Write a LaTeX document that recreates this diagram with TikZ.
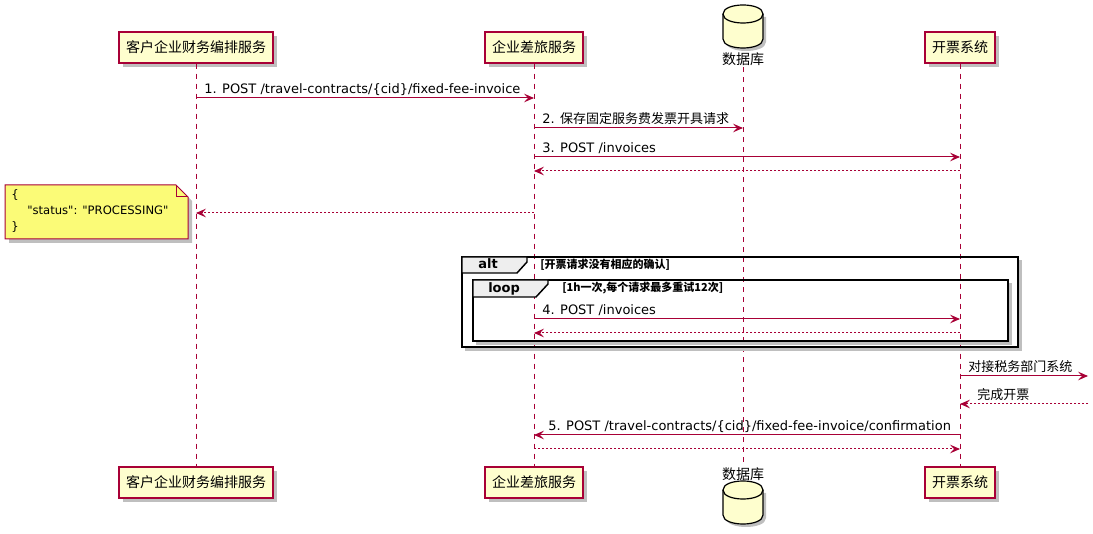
\documentclass[tikz,border=0pt]{standalone}
\usepackage{fontspec}
\setmainfont{Noto Sans CJK SC}
\newfontfamily\lat{DejaVu Sans}[Ligatures=TeXOff]
\usetikzlibrary{arrows.meta,shadows}
\definecolor{pred}{HTML}{A80036}
\definecolor{pbg}{HTML}{FEFECE}
\definecolor{pnote}{HTML}{FBFB77}
\definecolor{ptab}{HTML}{EEEEEE}
\begin{document}
\begin{tikzpicture}[x=0.75pt,y=-0.75pt,
  part/.style={draw=pred, fill=pbg, line width=1.1pt, inner xsep=5.25pt, minimum height=23pt,
    font=\fontsize{10.5}{12}\selectfont,
    drop shadow={shadow xshift=3pt, shadow yshift=-3pt, fill=black, opacity=0.25}},
  dbshape/.style={draw=black, fill=pbg, line width=0.9pt},
  dbshadow/.style={fill=black, opacity=0.25},
  dblabel/.style={font=\fontsize{10.5}{12}\selectfont, inner sep=1pt},
  lifeline/.style={draw=pred, line width=0.75pt, dash pattern=on 3.75pt off 3.75pt},
  msg/.style={draw=pred, line width=0.75pt, -{Stealth[length=7.5pt,width=6.5pt,inset=3pt]}},
  ret/.style={msg, dash pattern=on 1.5pt off 1.5pt},
  lbl/.style={anchor=base west, inner sep=0pt, font=\fontsize{9.75}{11}\selectfont},
  frame/.style={draw=black, line width=1.1pt},
  tab/.style={draw=black, fill=ptab, line width=1.1pt},
  tablbl/.style={anchor=base west, inner sep=0pt, font=\lat\bfseries\fontsize{9.75}{11}\selectfont},
  cond/.style={anchor=base west, inner sep=0pt, font=\bfseries\fontsize{8.25}{10}\selectfont},
  fshadow/.style={draw=black!25, line width=2.2pt}
]
\useasboundingbox[fill=white] (0,0) rectangle (1093,534);

% database cylinders
\foreach \cy/\sh in {14/3, 490/3}{
  \fill[dbshadow] (723+\sh,\cy+\sh) -- (723+\sh,\cy+25+\sh) .. controls (723+\sh,\cy+37+\sh) and (763+\sh,\cy+37+\sh) .. (763+\sh,\cy+25+\sh) -- (763+\sh,\cy+\sh) -- cycle;
  \draw[dbshape] (723,\cy) -- (723,\cy+25) .. controls (723,\cy+37) and (763,\cy+37) .. (763,\cy+25) -- (763,\cy)
     .. controls (763,\cy-12) and (723,\cy-12) .. (723,\cy) -- cycle;
  \draw[dbshape, fill=none] (723,\cy) .. controls (723,\cy+12) and (763,\cy+12) .. (763,\cy);
}

% participants top
\node[part] (Atop) at (196,47.5) {客户企业财务编排服务};
\node[part] (Btop) at (534,47.5) {企业差旅服务};
\node[inner sep=0pt, minimum width=30pt, minimum height=32pt] (Ctop) at (743,26.5) {};
\node[dblabel] (Clab) at (743,59) {数据库};
\node[part] (Dtop) at (960,47.5) {开票系统};

% participants bottom
\node[part] (Abot) at (196,482.5) {客户企业财务编排服务};
\node[part] (Bbot) at (534,482.5) {企业差旅服务};
\node[dblabel] (Cblab) at (743,474) {数据库};
\node[inner sep=0pt, minimum width=30pt, minimum height=32pt] (Cbot) at (743,505.5) {};
\node[part] (Dbot) at (960,482.5) {开票系统};

% lifelines
\draw[lifeline] (Atop.south) -- (Abot.north);
\draw[lifeline] (Btop.south) -- (Bbot.north);
\draw[lifeline] (Clab.south) -- (Cblab.north);
\draw[lifeline] (Dtop.south) -- (Dbot.north);

% messages
\draw[msg] (Atop |- 0,98) -- (Btop |- 0,98);
\node[lbl] (l1) at (204,93.5) {\lat 1. POST /travel-contracts/\{cid\}/fixed-fee-invoice};
\draw[msg] (Btop |- 0,128) -- (Ctop |- 0,128);
\node[lbl] (l2) at (542,123.5) {{\lat 2. }保存固定服务费发票开具请求};
\draw[msg] (Btop |- 0,157) -- (Dtop |- 0,157);
\node[lbl] (l3) at (542,152.5) {\lat 3. POST /invoices};
\draw[ret] (Dtop |- 0,171) -- (Btop |- 0,171);
\draw[ret] (Btop |- 0,213) -- (Atop |- 0,213);

% note
\draw[draw=pred, fill=pnote, line width=0.75pt,
  drop shadow={shadow xshift=3pt, shadow yshift=-3pt, fill=black, opacity=0.25}]
  (5,185) -- (176,185) -- (188,197) -- (188,239) -- (5,239) -- cycle;
\draw[draw=pred, line width=0.75pt] (176,185) -- (176,197) -- (188,197);
\node[anchor=north west, align=left, inner sep=0pt, font=\lat\fontsize{8.7}{12}\selectfont] (note) at (11,189.5)
  {\{\\\hspace*{12pt}"status": "PROCESSING"\\\}};

% alt frame
\draw[fshadow] (465,349.5) -- (1020.5,349.5) -- (1020.5,260);
\draw[frame] (462,257) rectangle (1018,347);
\draw[tab] (462,257) -- (527,257) -- (527,262) -- (517,273) -- (462,273) -- cycle;
\node[tablbl] (altl) at (478,269) {alt};
\node[cond] (altc) at (540,268.5) {[开票请求没有相应的确认]};

% loop frame
\draw[fshadow] (476,343.5) -- (1010.5,343.5) -- (1010.5,283);
\draw[frame] (473,280) rectangle (1008,341);
\draw[tab] (473,280) -- (548,280) -- (548,284) -- (536,297) -- (473,297) -- cycle;
\node[tablbl] (loopl) at (488,293) {loop};
\node[cond] (loopc) at (562,292) {[1h一次,每个请求最多重试12次]};

\draw[msg] (Btop |- 0,319) -- (Dtop |- 0,319);
\node[lbl] (l4) at (542,314.5) {\lat 4. POST /invoices};
\draw[ret] (Dtop |- 0,333) -- (Btop |- 0,333);

% external
\coordinate (ext1) at (1088,376);
\coordinate (ext2) at (1088,404);
\draw[msg] (Dtop |- ext1) -- (ext1);
\node[lbl] (l6) at (968,371.5) {对接税务部门系统};
\draw[ret] (ext2) -- (Dtop |- ext2);
\node[lbl] (l7) at (977,399.5) {完成开票};

\draw[msg] (Dtop |- 0,435) -- (Btop |- 0,435);
\node[lbl] (l5) at (548,430.5) {\lat 5. POST /travel-contracts/\{cid\}/fixed-fee-invoice/confirmation};
\draw[ret] (Btop |- 0,449) -- (Dtop |- 0,449);
\end{tikzpicture}
\end{document}
